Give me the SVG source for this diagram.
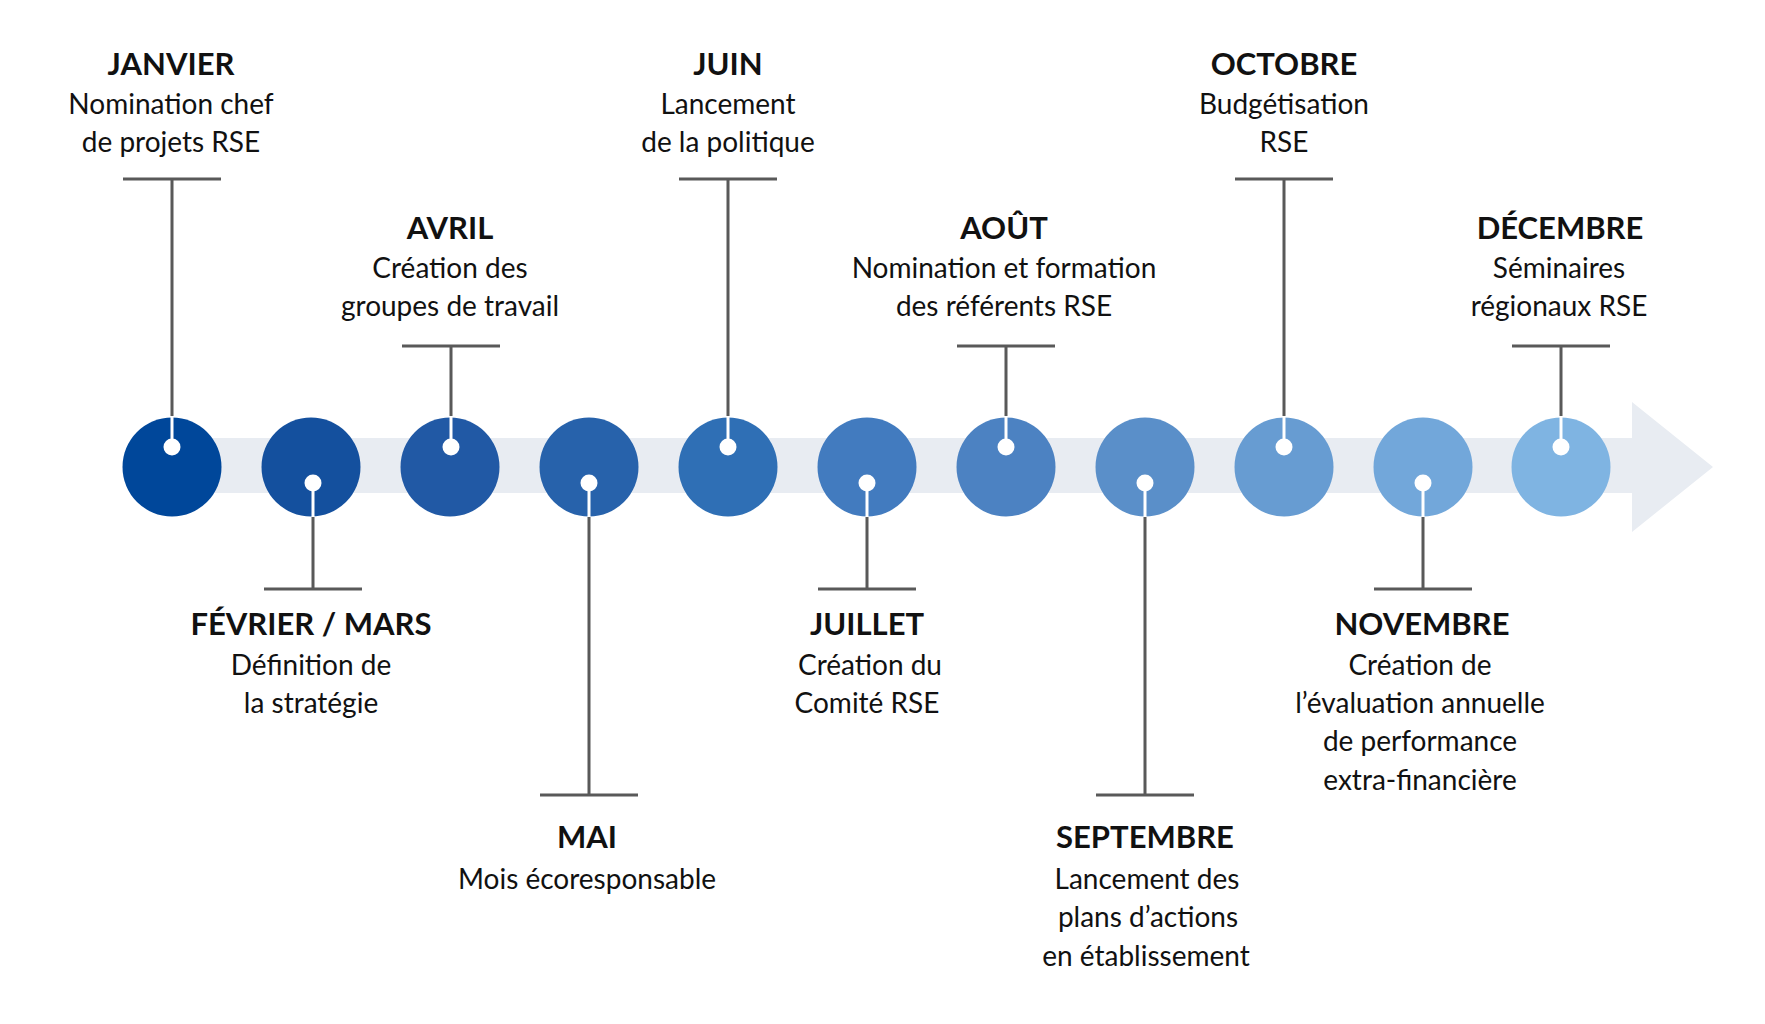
<svg xmlns="http://www.w3.org/2000/svg" width="1765" height="1024" viewBox="0 0 1765 1024">
<style>
.t{font-family:Lato,"Liberation Sans",sans-serif;font-weight:700;font-size:31px;fill:#111;text-anchor:middle}
.b{font-family:Lato,"Liberation Sans",sans-serif;font-weight:400;font-size:28px;fill:#111;text-anchor:middle}
.g{stroke:#595959;stroke-width:3;fill:none}
.w{stroke:#fff;stroke-width:3;fill:none}
.d{fill:#fff}
</style>
<rect width="1765" height="1024" fill="#fff"/>
<polygon points="172,438 1632,438 1632,402 1713,467 1632,532 1632,493 172,493" fill="#E8ECF2"/>
<g id="connectors">
<path class="g" d="M123,179H221M172,179V416"/>
<path class="g" d="M264,589H362M313,517V589"/>
<path class="g" d="M402,346H500M451,346V416"/>
<path class="g" d="M540,795H638M589,517V795"/>
<path class="g" d="M679,179H777M728,179V416"/>
<path class="g" d="M818,589H916M867,517V589"/>
<path class="g" d="M957,346H1055M1006,346V416"/>
<path class="g" d="M1096,795H1194M1145,517V795"/>
<path class="g" d="M1235,179H1333M1284,179V416"/>
<path class="g" d="M1374,589H1472M1423,517V589"/>
<path class="g" d="M1512,346H1610M1561,346V416"/>
</g>
<g id="n1"><circle cx="172" cy="467" r="49.5" fill="#00479A"/><path class="w" d="M172,417V447"/><circle class="d" cx="172" cy="447" r="8.5"/>
<text class="t" x="171" y="75">JANVIER</text><text class="b" x="171" y="113.5">Nomination chef</text><text class="b" x="171" y="151.5">de projets RSE</text></g>
<g id="n2"><circle cx="311" cy="467" r="49.5" fill="#14509E"/><path class="w" d="M313,483V517"/><circle class="d" cx="313" cy="483" r="8.5"/>
<text class="t" x="311" y="635">FÉVRIER / MARS</text><text class="b" x="311" y="675">Définition de</text><text class="b" x="311" y="713">la stratégie</text></g>
<g id="n3"><circle cx="450" cy="467" r="49.5" fill="#2159A5"/><path class="w" d="M451,417V447"/><circle class="d" cx="451" cy="447" r="8.5"/>
<text class="t" x="450" y="239">AVRIL</text><text class="b" x="450" y="278">Création des</text><text class="b" x="450" y="316">groupes de travail</text></g>
<g id="n4"><circle cx="589" cy="467" r="49.5" fill="#2762AB"/><path class="w" d="M589,483V517"/><circle class="d" cx="589" cy="483" r="8.5"/>
<text class="t" x="587" y="848">MAI</text><text class="b" x="587" y="888.5">Mois écoresponsable</text></g>
<g id="n5"><circle cx="728" cy="467" r="49.5" fill="#2F6FB5"/><path class="w" d="M728,417V447"/><circle class="d" cx="728" cy="447" r="8.5"/>
<text class="t" x="728" y="75">JUIN</text><text class="b" x="728" y="113.5">Lancement</text><text class="b" x="728" y="151.5">de la politique</text></g>
<g id="n6"><circle cx="867" cy="467" r="49.5" fill="#427BBF"/><path class="w" d="M867,483V517"/><circle class="d" cx="867" cy="483" r="8.5"/>
<text class="t" x="867" y="635">JUILLET</text><text class="b" x="870" y="675">Création du</text><text class="b" x="867" y="713">Comité RSE</text></g>
<g id="n7"><circle cx="1006" cy="467" r="49.5" fill="#4C82C2"/><path class="w" d="M1006,417V447"/><circle class="d" cx="1006" cy="447" r="8.5"/>
<text class="t" x="1004" y="239">AOÛT</text><text class="b" x="1004" y="278">Nomination et formation</text><text class="b" x="1004" y="316">des référents RSE</text></g>
<g id="n8"><circle cx="1145" cy="467" r="49.5" fill="#5A8FC9"/><path class="w" d="M1145,483V517"/><circle class="d" cx="1145" cy="483" r="8.5"/>
<text class="t" x="1145" y="848">SEPTEMBRE</text><text class="b" x="1147" y="888.5">Lancement des</text><text class="b" x="1148" y="927">plans d’actions</text><text class="b" x="1146" y="966">en établissement</text></g>
<g id="n9"><circle cx="1284" cy="467" r="49.5" fill="#679CD2"/><path class="w" d="M1284,417V447"/><circle class="d" cx="1284" cy="447" r="8.5"/>
<text class="t" x="1284" y="75">OCTOBRE</text><text class="b" x="1284" y="113.5">Budgétisation</text><text class="b" x="1284" y="151.5">RSE</text></g>
<g id="n10"><circle cx="1423" cy="467" r="49.5" fill="#72A7DA"/><path class="w" d="M1423,483V517"/><circle class="d" cx="1423" cy="483" r="8.5"/>
<text class="t" x="1422" y="635">NOVEMBRE</text><text class="b" x="1420" y="675">Création de</text><text class="b" x="1420" y="713">l’évaluation annuelle</text><text class="b" x="1420" y="751">de performance</text><text class="b" x="1420" y="790">extra-financière</text></g>
<g id="n11"><circle cx="1561" cy="467" r="49.5" fill="#7FB4E2"/><path class="w" d="M1561,417V447"/><circle class="d" cx="1561" cy="447" r="8.5"/>
<text class="t" x="1560" y="239">DÉCEMBRE</text><text class="b" x="1559" y="278">Séminaires</text><text class="b" x="1559" y="316">régionaux RSE</text></g>
</svg>
